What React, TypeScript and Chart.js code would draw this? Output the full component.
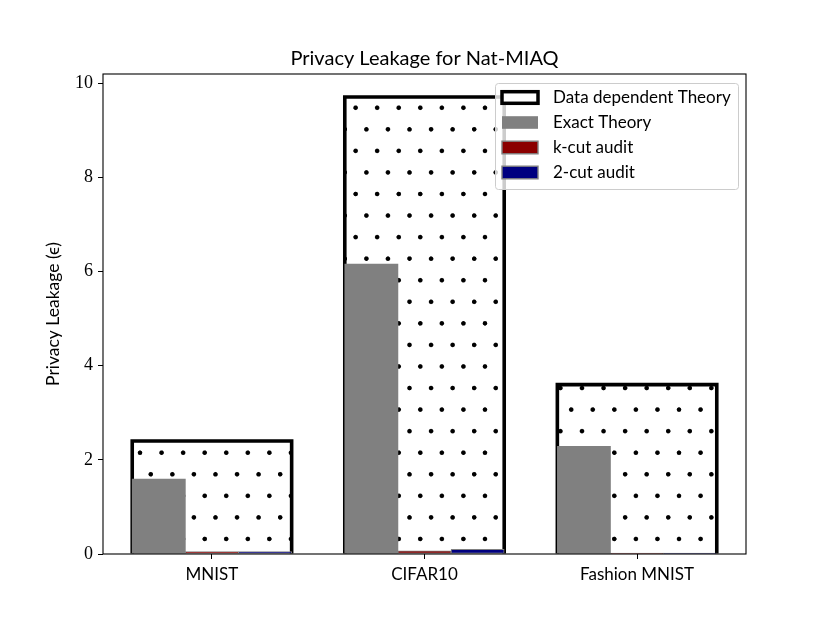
import { useEffect, useRef } from 'react'
import { Chart, registerables } from 'chart.js'

Chart.register(...registerables)

const categories = ['MNIST', 'CIFAR10', 'Fashion MNIST']
const dataDependentTheory = [2.4, 9.71, 3.6]
const exactTheory = [1.59, 6.16, 2.29]
const kCutAudit = [0.05, 0.07, 0.02]
const twoCutAudit = [0.05, 0.1, 0.02]
const yTicks = [0, 2, 4, 6, 8, 10]
const legendLabels = ['Data dependent Theory', 'Exact Theory', 'k-cut audit', '2-cut audit']

const SANS = 'Lato, "Liberation Sans", sans-serif'
const SERIF = '"Liberation Serif", serif'
const GRAY = '#808080'
const DARKRED = '#8b0000'
const NAVY = '#000080'
const EDGE = 3.6

// matplotlib '.' hatch: staggered dots, ~21.56px apart, anchored to the canvas
function makeDotPattern(ctx: CanvasRenderingContext2D) {
  const tile = document.createElement('canvas')
  tile.width = 65
  tile.height = 130
  const t = tile.getContext('2d')!
  const dots = [[16, 16], [48.5, 81]]
  for (const [x, y] of dots) {
    t.beginPath()
    t.arc(x, y, 6.8, 0, Math.PI * 2)
    t.fillStyle = '#000'
    t.fill()
    t.lineWidth = 1.5
    t.strokeStyle = '#666'
    t.stroke()
  }
  const s = 21.56 / 65
  const p = ctx.createPattern(tile, 'repeat')!
  p.setTransform(new DOMMatrix([s, 0, 0, s, 5.33, 16.19]))
  return p
}

const decorations = {
  id: 'decorations',
  // outline of the wide bars, centred on the bar edge like matplotlib
  afterDatasetDraw(chart: Chart, args: any) {
    if (args.index !== 0) return
    const { ctx, chartArea: a } = chart
    ctx.save()
    ctx.beginPath()
    ctx.rect(a.left, a.top, a.right - a.left, a.bottom - a.top)
    ctx.clip()
    ctx.strokeStyle = '#000'
    ctx.lineWidth = EDGE
    ctx.lineJoin = 'miter'
    for (const el of chart.getDatasetMeta(0).data as any[]) {
      const { x, y, width, base } = el.getProps(['x', 'y', 'width', 'base'], true)
      ctx.beginPath()
      ctx.moveTo(x - width / 2, base)
      ctx.lineTo(x - width / 2, y)
      ctx.lineTo(x + width / 2, y)
      ctx.lineTo(x + width / 2, base)
      ctx.stroke()
    }
    ctx.restore()
  },
  afterDatasetsDraw(chart: Chart) {
    const { ctx, chartArea: a } = chart
    ctx.save()
    ctx.strokeStyle = '#000'
    ctx.lineWidth = 1.1
    ctx.strokeRect(a.left, a.top, a.right - a.left, a.bottom - a.top)
    ctx.restore()
  },
  afterDraw(chart: Chart) {
    const { ctx, chartArea: a } = chart
    ctx.save()
    ctx.fillStyle = '#000'

    // title
    ctx.font = `20px ${SANS}`
    ctx.textAlign = 'center'
    ctx.textBaseline = 'alphabetic'
    ctx.fillText('Privacy Leakage for Nat-MIAQ', (a.left + a.right) / 2, 65)

    // y label
    ctx.save()
    ctx.translate(59, (a.top + a.bottom) / 2)
    ctx.rotate(-Math.PI / 2)
    ctx.font = `17.5px ${SANS}`
    ctx.fillText('Privacy Leakage (\u03f5)', 0, 0)
    ctx.restore()

    // legend
    const lx = 495.5, ly = 83.5, lw = 243, lh = 106
    ctx.beginPath()
    ctx.roundRect(lx, ly, lw, lh, 3)
    ctx.fillStyle = 'rgba(255,255,255,0.8)'
    ctx.fill()
    ctx.strokeStyle = '#cccccc'
    ctx.lineWidth = 1
    ctx.stroke()

    const rows = [97.5, 122.5, 147.5, 172.5]
    const fills = ['#ffffff', GRAY, DARKRED, NAVY]
    rows.forEach((cy, i) => {
      if (i === 0) {
        ctx.fillStyle = '#fff'
        ctx.fillRect(502, cy - 5.8, 36, 11.6)
        ctx.strokeStyle = '#000'
        ctx.lineWidth = 3.5
        ctx.strokeRect(502, cy - 5.8, 36, 11.6)
      } else {
        ctx.fillStyle = fills[i]
        ctx.fillRect(502, cy - 6.3, 36, 12.6)
        if (i > 1) {
          ctx.strokeStyle = GRAY
          ctx.lineWidth = 1.4
          ctx.strokeRect(502, cy - 6.3, 36, 12.6)
        }
      }
      ctx.fillStyle = '#000'
      ctx.font = `17px ${SANS}`
      ctx.textAlign = 'left'
      ctx.textBaseline = 'middle'
      ctx.fillText(legendLabels[i], 553, cy)
    })
    ctx.restore()
  },
}

export default function App() {
  const canvasRef = useRef<HTMLCanvasElement>(null)
  const chartRef = useRef<Chart | null>(null)

  useEffect(() => {
    if (!canvasRef.current) return
    if (chartRef.current) chartRef.current.destroy()
    const ctx = canvasRef.current.getContext('2d')!
    const dots = makeDotPattern(ctx)

    const axisGrid = { drawOnChartArea: false, drawTicks: true, tickLength: 5, color: '#000', lineWidth: 1, offset: false }

    chartRef.current = new Chart(canvasRef.current, {
      type: 'bar',
      data: {
        datasets: [
          {
            label: legendLabels[0],
            data: dataDependentTheory.map((v, i) => ({ x: i, y: v })),
            backgroundColor: dots,
            borderWidth: 0,
            barPercentage: 3,
            categoryPercentage: 1,
            grouped: false,
            order: 10,
          },
          {
            label: legendLabels[1],
            data: exactTheory.map((v, i) => ({ x: i - 0.25, y: v })),
            backgroundColor: GRAY,
            borderWidth: 0,
            barPercentage: 1,
            categoryPercentage: 1,
            grouped: false,
            order: 3,
          },
          {
            label: legendLabels[2],
            data: kCutAudit.map((v, i) => ({ x: i, y: v })),
            backgroundColor: DARKRED,
            borderColor: GRAY,
            borderWidth: 1,
            borderSkipped: false,
            barPercentage: 1,
            categoryPercentage: 1,
            grouped: false,
            order: 2,
          },
          {
            label: legendLabels[3],
            data: twoCutAudit.map((v, i) => ({ x: i + 0.25, y: v })),
            backgroundColor: NAVY,
            borderColor: GRAY,
            borderWidth: 1,
            borderSkipped: false,
            barPercentage: 1,
            categoryPercentage: 1,
            grouped: false,
            order: 1,
          },
        ],
      },
      options: {
        animation: false,
        responsive: true,
        maintainAspectRatio: false,
        layout: { padding: { top: 74, right: 84, bottom: 0, left: 0 } },
        plugins: {
          legend: { display: false },
          title: { display: false },
          tooltip: { enabled: false },
        },
        scales: {
          x: {
            type: 'linear',
            offset: false,
            min: -0.5125,
            max: 2.5125,
            afterBuildTicks: (s: any) => { s.ticks = categories.map((_, i) => ({ value: i })) },
            afterFit: (s: any) => { s.height = 69 },
            ticks: {
              callback: (v: any) => categories[v] ?? '',
              font: { family: SANS, size: 17 },
              color: '#000',
              padding: 5,
              maxRotation: 0,
              autoSkip: false,
            },
            grid: axisGrid,
            border: { display: false },
          },
          y: {
            min: 0,
            max: 10.2,
            afterBuildTicks: (s: any) => { s.ticks = yTicks.map((v) => ({ value: v })) },
            afterFit: (s: any) => { s.width = 103 },
            ticks: {
              font: { family: SERIF, size: 18 },
              color: '#000',
              padding: 5,
            },
            grid: axisGrid,
            border: { display: false },
          },
        },
      },
      plugins: [decorations],
    })

    return () => { chartRef.current?.destroy() }
  }, [])

  return (
    <div style={{ position: 'absolute', left: 0, top: 0, width: 830, height: 623, background: '#fff' }}>
      <canvas ref={canvasRef} />
    </div>
  )
}
